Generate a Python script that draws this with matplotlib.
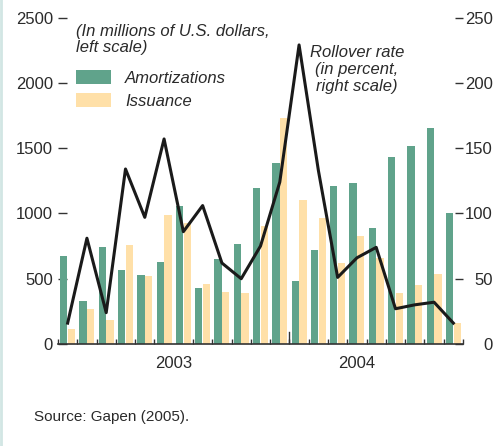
from matplotlib import pyplot as plt
from matplotlib.patches import Patch
from matplotlib.lines import Line2D
import numpy as np

# monthly data, Jan 2003 - Sep 2004
months = list(range(21))
amortizations = [674, 329, 743, 567, 528, 628, 1057, 429, 651, 766, 1195,
                 1386, 482, 720, 1210, 1233, 888, 1434, 1518, 1656, 1000]
issuance = [115, 268, 184, 758, 521, 988, 925, 459, 398, 390, 904,
            1731, 1103, 967, 623, 827, 659, 393, 452, 536, 163]
rollover = [16, 81, 24, 134, 97, 157, 86, 106, 62, 50, 75,
            124, 229, 133, 51, 66, 74, 27, 30, 32, 16]
years = ['2003', '2004']
year_pos = [5.5, 15]

green = '#60a38b'
yellow = '#ffe0a8'
txt = '#2a2a2a'

plt.rcParams['font.family'] = ['Liberation Sans', 'DejaVu Sans']

W, H = 495, 446
fig = plt.figure(figsize=(W / 100, H / 100), dpi=100)
ax = fig.add_axes([58 / W, 1 - 344 / H, (463 - 58) / W, (344 - 17.5) / H])
ax2 = ax.twinx()

x = np.array(months)
ax.bar(x - 0.2, amortizations, width=0.38, color=green, zorder=2)
ax.bar(x + 0.2, issuance, width=0.38, color=yellow, zorder=2)
ax2.plot(x, rollover, color='#1a1a1a', lw=2.2, zorder=3)

ax.set_xlim(-0.5, 20.5)
ax.set_ylim(0, 2500)
ax2.set_ylim(0, 250)

for a in (ax, ax2):
    for s in ['top', 'left', 'right']:
        a.spines[s].set_visible(False)
    a.spines['bottom'].set_color('#333333')
    a.spines['bottom'].set_linewidth(1.2)
ax2.spines['bottom'].set_visible(False)

ax.set_yticks([0, 500, 1000, 1500, 2000, 2500])
ax.tick_params(axis='y', direction='in', length=6.5, width=1, color='#333333',
               pad=3.6, labelsize=12, labelcolor=txt)
ax2.set_yticks([0, 50, 100, 150, 200, 250])
ax2.tick_params(axis='y', direction='in', length=5.8, width=1, color='#333333',
                pad=21.6, labelsize=12, labelcolor=txt)
for lab in ax2.get_yticklabels():
    lab.set_ha('right')

ax.set_xticks(year_pos)
ax.set_xticklabels(years)
ax.set_xticks(np.arange(-0.5, 21, 1), minor=True)
ax.tick_params(axis='x', which='major', length=0, pad=8.6, labelsize=12,
               labelcolor=txt)
ax.tick_params(axis='x', which='minor', direction='in', length=3.8, width=1,
               color='#333333')
# longer tick at the year boundary
ax.axvline(11.5, ymin=0, ymax=12 / 326, color='#333333', lw=1, zorder=4)

fig.text(76 / W, 1 - 24 / H, '(In millions of U.S. dollars,\nleft scale)',
         style='italic', fontsize=12, color=txt, ha='left', va='top',
         linespacing=1.1)
fig.text(357 / W, 1 - 45 / H, 'Rollover rate\n(in percent,\nright scale)',
         style='italic', fontsize=12, color=txt, ha='center', va='top',
         multialignment='center', linespacing=1.15)

handles = [Patch(facecolor=green, label='Amortizations'),
           Patch(facecolor=yellow, label='Issuance')]
leg = fig.legend(handles=handles, loc='upper left',
                 bbox_to_anchor=(76 / W, 1 - 70 / H), frameon=False,
                 borderpad=0, borderaxespad=0, handlelength=2.1,
                 handleheight=0.96, handletextpad=0.84, labelspacing=0.42,
                 prop={'size': 12, 'style': 'italic'})
for t in leg.get_texts():
    t.set_color(txt)

fig.text(34 / W, 1 - 417 / H, 'Source: Gapen (2005).', fontsize=11,
         color=txt, ha='left', va='center')

fig.add_artist(Line2D([1 / W, 1 / W], [0, 1], transform=fig.transFigure,
                      color='#d2e6e4', lw=2))

fig.savefig('out.png', dpi=100)
plt.close()
